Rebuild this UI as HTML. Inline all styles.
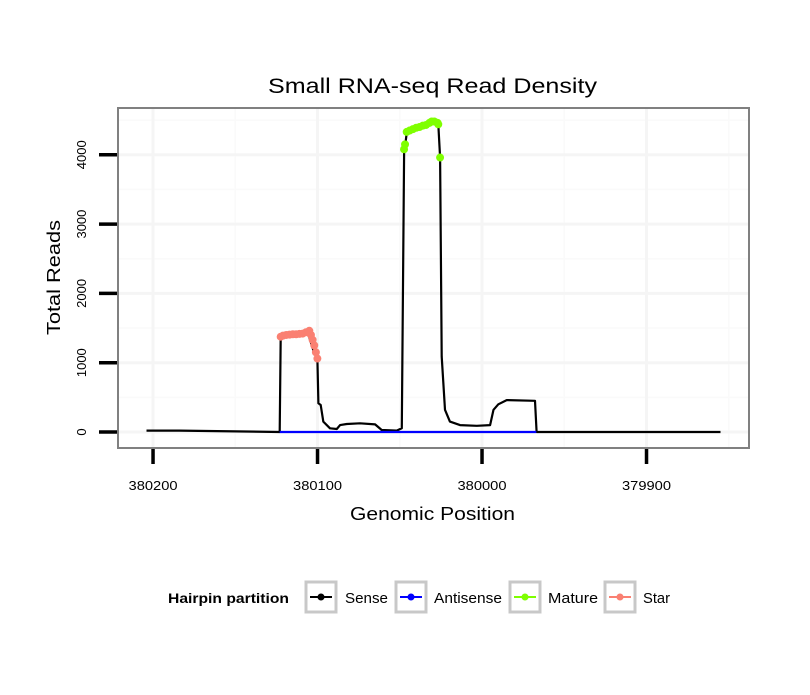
<!DOCTYPE html>
<html><head><meta charset="utf-8"><style>
body{margin:0;background:#fff}
svg text{font-family:"Liberation Sans",sans-serif}
</style></head><body>
<svg id="chart" width="810" height="690" xmlns="http://www.w3.org/2000/svg">
<rect width="810" height="690" fill="#fff"/>
<text x="268" y="93" font-size="21" textLength="329" lengthAdjust="spacingAndGlyphs">Small RNA-seq Read Density</text>
<g id="grid"></g>
<g id="axes"></g>
<g id="marks"></g>
<rect x="118" y="108" width="631" height="340" fill="none" stroke="#808080" stroke-width="2"/>
<text x="350" y="520" font-size="18" textLength="165" lengthAdjust="spacingAndGlyphs">Genomic Position</text>
<text transform="translate(60,335) rotate(-90)" font-size="18" textLength="115" lengthAdjust="spacingAndGlyphs">Total Reads</text>
<g>
<text x="168" y="603" font-size="14" font-weight="bold" textLength="121" lengthAdjust="spacingAndGlyphs">Hairpin partition</text>
<g><rect x="306" y="582" width="30" height="30" fill="#fff" stroke="#c8c8c8" stroke-width="3"/><line x1="310" y1="597" x2="332" y2="597" stroke="#000" stroke-width="2"/><circle cx="321" cy="597" r="3.5" fill="#000"/><text x="345" y="603" font-size="15" textLength="43" lengthAdjust="spacingAndGlyphs">Sense</text></g>
<g><rect x="396" y="582" width="30" height="30" fill="#fff" stroke="#c8c8c8" stroke-width="3"/><line x1="400" y1="597" x2="422" y2="597" stroke="#0000ff" stroke-width="2"/><circle cx="411" cy="597" r="3.5" fill="#0000ff"/><text x="434" y="603" font-size="15" textLength="68" lengthAdjust="spacingAndGlyphs">Antisense</text></g>
<g><rect x="510" y="582" width="30" height="30" fill="#fff" stroke="#c8c8c8" stroke-width="3"/><line x1="514" y1="597" x2="536" y2="597" stroke="#7fff00" stroke-width="2"/><circle cx="525" cy="597" r="3.5" fill="#7fff00"/><text x="548" y="603" font-size="15" textLength="50" lengthAdjust="spacingAndGlyphs">Mature</text></g>
<g><rect x="605" y="582" width="30" height="30" fill="#fff" stroke="#c8c8c8" stroke-width="3"/><line x1="609" y1="597" x2="631" y2="597" stroke="#fa8072" stroke-width="2"/><circle cx="620" cy="597" r="3.5" fill="#fa8072"/><text x="643" y="603" font-size="15" textLength="27" lengthAdjust="spacingAndGlyphs">Star</text></g>
</g>
</svg>
<script>
const xTicks=[380200,380100,380000,379900];
const yTicks=[0,1000,2000,3000,4000];
const sensePos=[380204,380184,380123,380122.4,380106,380104.6,380102.6,380100.1,380099.5,380098.1,380096.5,380092.4,380088.3,380086.3,380082.2,380074.2,380065,380061,380051.9,380048.8,380047.4,380046.8,380045.8,380039.7,380033.6,380030.6,380026.6,380025.5,380024.5,380022.5,380019.5,380013.4,380003.2,379995.1,379993,379990.1,379985,379967.8,379966.8,379855];
const senseVal=[20,20,0,1375,1470,1330,1180,1050,414,390,150,53,43,100,115,125,110,29,20,53,4020,4120,4310,4380,4430,4480,4440,3960,1090,320,150,100,90,100,320,400,460,450,0,0];
const antiPos=[380123,379967];
const antiVal=[0,0];
const starPos=[380122.4,380121,380119,380117,380115,380113,380111,380109,380107,380105,380104,380103,380102,380101,380100.1];
const starVal=[1375,1390,1400,1405,1410,1410,1415,1420,1440,1460,1400,1330,1250,1150,1060];
const maturePos=[380047.4,380046.8,380045.8,380044,380042,380040,380038,380036,380034,380032,380030.6,380029,380027,380026.6,380025.5];
const matureVal=[4080,4150,4330,4350,4370,4390,4400,4420,4430,4460,4480,4480,4460,4440,3960];
const L=118,R=749,T=108,B=448;
const xmin=380221.3,xmax=379837.7,ymin=-231,ymax=4675;
const X=v=>L+(v-xmin)/(xmax-xmin)*(R-L);
const Y=v=>B-(v-ymin)/(ymax-ymin)*(B-T);
const ns="http://www.w3.org/2000/svg";
function mk(t,a,p){const e=document.createElementNS(ns,t);for(const k in a)e.setAttribute(k,a[k]);p.appendChild(e);return e;}
const grid=document.getElementById('grid'),axes=document.getElementById('axes'),marks=document.getElementById('marks');
mk('rect',{x:L,y:T,width:R-L,height:B-T,fill:'#fff'},grid);
const minorX=[380150,380050,379950,379850];
minorX.forEach(v=>{const l=mk('line',{x1:X(v),x2:X(v),y1:T,y2:B,stroke:'#fafafa','stroke-width':1.5},grid);});
[500,1500,2500,3500,4500].forEach(v=>{const l=mk('line',{x1:L,x2:R,y1:Y(v),y2:Y(v),stroke:'#fafafa','stroke-width':1.5},grid);});
xTicks.forEach(v=>{const l=mk('line',{x1:X(v),x2:X(v),y1:T,y2:B,stroke:'#f5f5f5','stroke-width':3},grid);
const t=mk('line',{x1:X(v),x2:X(v),y1:449,y2:464,stroke:'#000','stroke-width':3.5},axes);
const tx=mk('text',{x:X(v)-24.5,y:490,'font-size':13,textLength:49,lengthAdjust:'spacingAndGlyphs'},axes);tx.textContent=v;});
yTicks.forEach(v=>{const l=mk('line',{x1:L,x2:R,y1:Y(v),y2:Y(v),stroke:'#f5f5f5','stroke-width':3},grid);
const t=mk('line',{x1:99,x2:117,y1:Y(v),y2:Y(v),stroke:'#000','stroke-width':3.5},axes);
const tx=mk('text',{'font-size':13,'text-anchor':'middle',transform:`translate(86,${Y(v)}) rotate(-90)`},axes);tx.textContent=v;});
function line(px,py,col,name){const d=px.map((p,i)=>(i?'L':'M')+X(p).toFixed(1)+','+Y(py[i]).toFixed(1)).join('');const e=mk('path',{d:d,fill:'none',stroke:col,'stroke-width':2.2,'stroke-linejoin':'round'},marks);}
function pts(px,py,col,name){px.forEach((p,i)=>{const c=mk('circle',{cx:X(p),cy:Y(py[i]),r:4,fill:col},marks);});}
line(sensePos,senseVal,'#000','sense-line');
line(antiPos,antiVal,'#0000ff','antisense-line');
pts(starPos,starVal,'#fa8072','star-point');
pts(maturePos,matureVal,'#7fff00','mature-point');
</script>
</body></html>
